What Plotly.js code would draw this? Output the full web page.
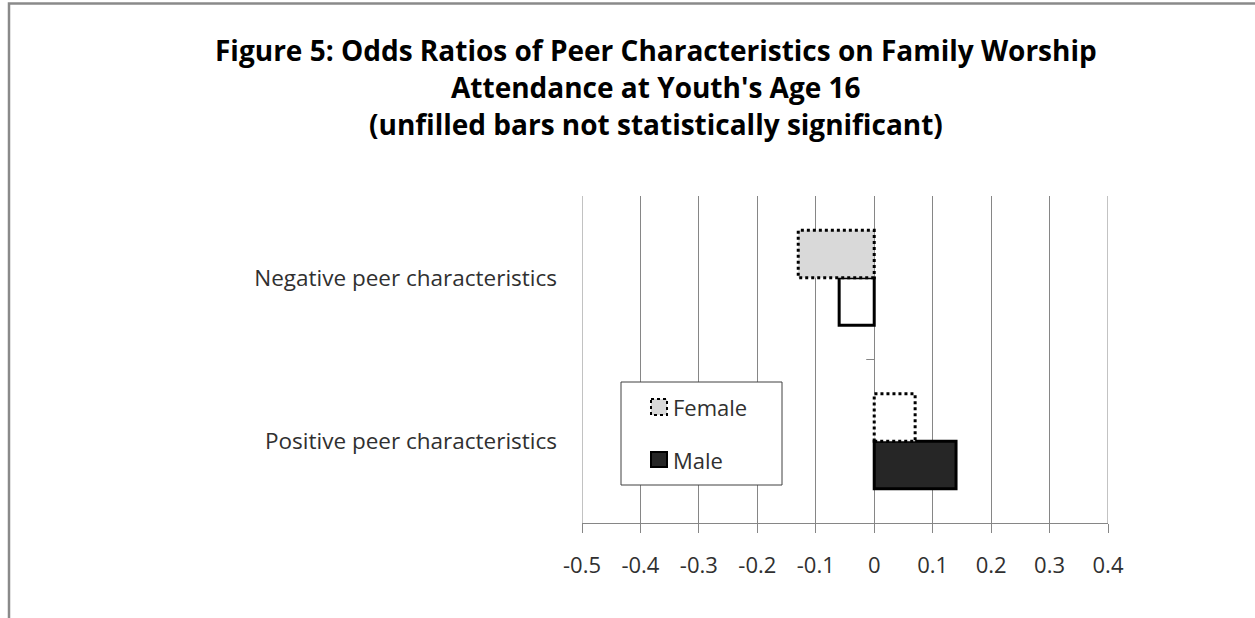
<!DOCTYPE html>
<html>
<head>
<meta charset="utf-8">
<script src="https://cdn.plot.ly/plotly-3.0.1.min.js"></script>
<style>
  html, body { margin: 0; padding: 0; background: #ffffff; }
  #chart { width: 1255px; height: 618px; }
</style>
</head>
<body>
<div id="chart"></div>
<script>
// Categories, bottom to top
const categories = ["Positive peer characteristics", "Negative peer characteristics"];

// Odds ratios per sex
const femaleValues = [0.07, -0.13];
const maleValues = [0.14, -0.06];

// Filled bars are statistically significant, white bars are not
const femaleFill = ["#ffffff", "#d9d9d9"];
const maleFill = ["#262626", "#ffffff"];

// Value axis ticks
const xTickValues = [-0.5, -0.4, -0.3, -0.2, -0.1, 0, 0.1, 0.2, 0.3, 0.4];
const xTickLabels = ["-0.5", "-0.4", "-0.3", "-0.2", "-0.1", "0", "0.1", "0.2", "0.3", "0.4"];

const titleLines = [
  "Figure 5: Odds Ratios of Peer Characteristics on Family Worship",
  "Attendance at Youth's Age 16",
  "(unfilled bars not statistically significant)"
];
const legendLabels = ["Female", "Male"];

// Plot-area geometry (px)
const W = 1255, H = 618;
const M = { l: 582, r: 147, t: 196, b: 95 };
const plotW = W - M.l - M.r;
const plotH = H - M.t - M.b;
const px2x = (px) => (px - M.l) / plotW;
const px2y = (py) => (H - M.b - py) / plotH;

const FONT = "Open Sans, sans-serif";
const GRID = "#868686";
const TEXT = "#303030";
const bargap = 0.42;
const barWidth = (1 - bargap) / 2;
const catPos = categories.map((_, i) => i);
const xRange = [xTickValues[0], xTickValues[xTickValues.length - 1]];

const traces = [
  {
    type: "bar",
    orientation: "h",
    name: legendLabels[1],
    y: catPos,
    x: maleValues,
    marker: { color: maleFill, line: { color: "#000000", width: 3 } },
    showlegend: false,
    hoverinfo: "x"
  },
  {
    type: "bar",
    orientation: "h",
    name: legendLabels[0],
    y: catPos,
    x: femaleValues,
    marker: { color: femaleFill, line: { width: 0 } },
    showlegend: false,
    hoverinfo: "x"
  }
];

const shapes = [];

// Gridlines at both ends of the value axis
xRange.forEach((v) => {
  shapes.push({
    type: "line", xref: "x", yref: "paper", layer: "below",
    x0: v, x1: v, y0: 0, y1: 1,
    line: { color: GRID, width: 1 }
  });
});

// Dotted outlines of the female bars, from the same values and bar slots
femaleValues.forEach((v, i) => {
  shapes.push({
    type: "rect", xref: "x", yref: "y",
    x0: 0, x1: v, y0: catPos[i], y1: catPos[i] + barWidth,
    line: { color: "#000000", width: 3, dash: "dot" },
    fillcolor: "rgba(0,0,0,0)"
  });
});

// Small tick on the vertical axis between the two categories
shapes.push({
  type: "line", xref: "x", yref: "y", xsizemode: "pixel", xanchor: 0,
  x0: -8, x1: 0, y0: 0.5, y1: 0.5,
  line: { color: GRID, width: 1 }
});

// Legend box and swatches
shapes.push({
  type: "rect", xref: "paper", yref: "paper",
  x0: px2x(621), x1: px2x(782), y0: px2y(382), y1: px2y(485),
  line: { color: "#404040", width: 1 }, fillcolor: "#ffffff"
});
shapes.push({
  type: "rect", xref: "paper", yref: "paper",
  x0: px2x(651), x1: px2x(667), y0: px2y(399), y1: px2y(415),
  line: { color: "#000000", width: 2, dash: "dot" }, fillcolor: "#d9d9d9"
});
shapes.push({
  type: "rect", xref: "paper", yref: "paper",
  x0: px2x(651), x1: px2x(667), y0: px2y(452), y1: px2y(467),
  line: { color: "#000000", width: 2 }, fillcolor: "#262626"
});

// Chart frame (left and top edges)
shapes.push({
  type: "path", xref: "paper", yref: "paper",
  path: `M ${px2x(9)},${px2y(620)} L ${px2x(9)},${px2y(3.5)} L ${px2x(1257)},${px2y(3.5)}`,
  line: { color: "#8a8a8a", width: 2.5 }
});

const annotations = [];
const titleY = [50, 87, 124];
titleLines.forEach((t, i) => {
  annotations.push({
    xref: "paper", yref: "paper",
    x: px2x(656), y: px2y(titleY[i]),
    xanchor: "center", yanchor: "middle",
    text: "<b>" + t + "</b>", showarrow: false,
    font: { family: FONT, size: 28, color: "#000000" }
  });
});
annotations.push({
  xref: "paper", yref: "paper", x: px2x(671), y: px2y(407),
  xanchor: "left", yanchor: "middle", text: legendLabels[0], showarrow: false,
  font: { family: FONT, size: 22, color: TEXT }
});
annotations.push({
  xref: "paper", yref: "paper", x: px2x(671), y: px2y(460),
  xanchor: "left", yanchor: "middle", text: legendLabels[1], showarrow: false,
  font: { family: FONT, size: 22, color: TEXT }
});

const layout = {
  width: W, height: H,
  margin: M,
  paper_bgcolor: "#ffffff",
  plot_bgcolor: "#ffffff",
  barmode: "group",
  bargap: bargap,
  bargroupgap: 0,
  showlegend: false,
  font: { family: FONT, size: 22, color: TEXT },
  xaxis: {
    range: xRange,
    tickvals: xTickValues,
    ticktext: xTickLabels,
    showgrid: true, gridcolor: GRID, gridwidth: 1,
    zeroline: true, zerolinecolor: GRID, zerolinewidth: 1,
    showline: true, linecolor: GRID, linewidth: 1,
    ticks: "outside", ticklen: 9, tickcolor: GRID, tickwidth: 1,
    ticklabelstandoff: 14,
    tickfont: { family: FONT, size: 22, color: TEXT },
    fixedrange: true
  },
  yaxis: {
    range: [-0.5, 1.5],
    tickvals: catPos,
    ticktext: categories,
    showgrid: false, zeroline: false, showline: false,
    ticks: "",
    ticklabelstandoff: 24,
    tickfont: { family: FONT, size: 22.5, color: TEXT },
    fixedrange: true
  },
  shapes: shapes,
  annotations: annotations
};

Plotly.newPlot("chart", traces, layout, { displayModeBar: false, staticPlot: true });
</script>
</body>
</html>
